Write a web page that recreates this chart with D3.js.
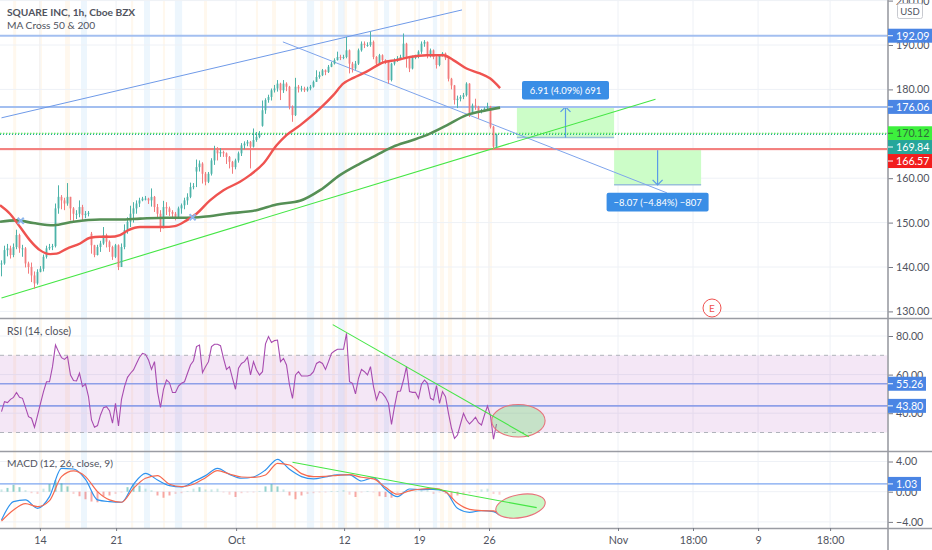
<!DOCTYPE html>
<html>
<head>
<meta charset="utf-8">
<title>SQUARE INC, 1h</title>
<script src="https://cdnjs.cloudflare.com/ajax/libs/d3/7.8.5/d3.min.js"></script>
<style>
  html, body { margin: 0; padding: 0; background: #fff; }
  svg { display: block; font-family: Lato, sans-serif; }
</style>
</head>
<body>
<div id="chart"></div>
<script>
/* global d3:false */

// Candles, one every three "bars" of the axis scale below
var closes = [
  140.8,143.8,144.2,142.7,144.5,147.2,144.2,144.2,140.8,140.0,
  138.1,136.3,138.9,139.6,142.3,144.2,144.5,144.7,153.2,155.8,
  155.0,154.3,155.8,153.2,152.0,152.0,153.5,151.7,152.0,152.2,
  144.9,142.7,144.5,145.3,147.2,145.7,144.5,142.3,144.9,140.0,
  144.5,148.3,150.2,152.0,153.2,154.3,155.0,155.4,155.4,155.0,
  155.8,153.5,152.0,149.0,153.5,153.2,152.4,152.0,151.3,153.2,
  153.9,155.0,155.8,158.0,158.2,162.5,163.3,161.0,159.2,161.0,
  164.0,166.3,165.6,165.9,165.6,164.8,163.7,162.5,164.0,165.6,
  167.4,167.8,168.2,167.1,168.6,169.3,170.1,175.3,177.6,178.3,
  179.8,180.2,181.3,179.8,181.3,180.6,176.1,174.2,180.6,180.2,
  180.2,179.8,180.2,180.6,181.7,182.8,183.2,184.3,183.9,185.1,
  185.8,186.6,187.3,187.2,187.3,188.8,185.8,184.7,185.8,188.8,
  190.3,190.0,190.0,190.7,187.3,185.8,187.7,186.6,186.2,182.1,
  185.8,186.6,187.0,187.3,190.3,187.0,184.7,187.3,187.3,188.5,
  190.3,190.7,187.7,188.8,187.3,185.5,187.7,188.1,187.0,182.4,
  180.9,177.6,177.9,178.3,178.7,181.3,174.6,176.4,176.1,174.9,
  175.3,175.7,176.2,171.6,167.1,169.84
];
var highs = [
  141.5,144.8,145.2,144.8,145.3,148.4,147.5,145.0,144.5,141.2,
  141.0,139.0,139.5,140.2,142.8,144.8,145.2,145.2,154.3,158.4,
  156.2,155.6,158.9,155.8,153.5,152.8,155.0,154.0,152.6,152.6,
  147.9,145.0,145.0,145.9,149.0,147.5,146.0,144.8,145.2,145.1,
  145.3,149.6,151.2,153.8,154.6,155.0,155.6,155.8,156.0,155.6,
  157.7,156.0,154.2,152.8,154.9,154.6,153.6,152.8,152.4,153.6,
  154.3,155.6,156.6,159.0,158.9,164.2,164.0,163.6,161.4,161.4,
  164.5,167.3,167.0,166.8,166.2,165.8,165.0,163.9,164.4,166.0,
  167.9,168.3,168.6,168.4,171.2,170.4,170.6,177.5,178.0,178.8,
  180.2,181.0,182.1,181.5,182.1,181.6,180.8,176.4,182.6,181.0,
  180.8,180.6,180.6,181.0,182.0,184.3,184.0,184.6,184.5,185.5,
  186.2,187.0,188.5,187.8,187.8,191.8,189.0,186.2,186.4,189.2,
  190.8,190.8,190.6,193.0,191.0,187.5,188.0,187.9,186.8,186.4,
  186.0,187.0,187.5,187.8,192.6,190.5,187.2,187.6,187.8,188.8,
  190.8,191.1,190.8,189.2,189.0,187.5,187.9,188.4,188.3,187.2,
  182.6,181.0,178.6,178.7,179.2,181.6,181.4,176.8,177.9,176.3,
  175.6,176.0,177.0,176.3,171.8,170.0
];
var lows = [
  137.9,140.5,142.4,141.9,142.2,144.0,143.2,142.3,139.9,138.5,
  136.6,135.1,136.0,138.8,139.0,141.9,143.8,143.8,144.4,152.0,
  153.0,152.8,153.8,150.5,150.1,150.8,151.2,150.5,151.0,151.4,
  143.0,142.2,142.6,143.4,145.0,144.4,143.4,141.6,142.0,139.3,
  140.0,144.0,147.5,149.0,150.0,152.0,153.5,154.8,155.0,154.2,
  153.6,152.4,151.0,147.9,148.7,151.7,151.5,151.0,150.5,151.0,
  152.0,153.0,154.0,155.5,157.5,158.0,161.5,158.8,158.4,158.9,
  160.6,163.0,164.0,164.8,164.8,163.2,162.2,161.0,162.0,163.5,
  165.0,166.5,167.2,162.2,166.9,168.2,169.0,171.6,174.5,177.0,
  177.5,179.3,179.5,177.6,179.2,179.6,175.5,172.7,174.0,179.3,
  179.5,179.4,179.5,179.8,180.4,181.7,182.4,183.0,183.2,183.7,
  185.0,185.6,186.5,186.6,186.8,187.0,183.6,183.8,184.4,185.5,
  188.5,189.3,189.6,189.6,186.8,185.3,185.6,186.0,185.7,181.3,
  181.8,185.4,186.2,186.8,187.0,184.9,183.9,184.5,186.8,187.0,
  188.0,189.6,187.0,187.2,186.8,184.7,185.2,187.4,186.6,181.8,
  180.0,176.6,175.8,177.3,177.8,178.4,173.8,174.4,175.4,173.4,
  174.6,175.1,175.4,171.2,166.6,166.9
];
// opens are the previous close, except where the session gapped
var gapIndex = [30, 65, 87];
var gapOpen = [147.5, 161.5, 171.8];

// Moving averages
var ma50Bars = [-0.5,2.8,6.2,9.5,12.8,16.2,18.4,21.7,26.2,29.5,32.8,36.2,39.5,42.3,46.2,53.9,57.8,61.7,65,69.5,74,79.5,82.8,87.3,91.7,95,99.5,106.2,110.6,113.9,117.3,121.7,127.3,131.7,136.2,141.7,147.3,150.6,155,159.5,162.8,166.2];
var ma50Vals = [153.9,152,149,146,143.8,142.9,143,144.1,145.3,146.6,146.8,146.8,147.2,148.3,149,149,149.2,150.5,152,155,157.3,159.2,160.7,163.3,167.4,169.7,171.9,175.7,178.7,181.3,182.6,184,186.1,186.6,187.3,187.7,187.7,186.6,184.7,183.6,182.5,180.3];
var ma200Bars = [-0.5,5,10.6,17.3,24,32.8,39.5,46.2,55,61.7,67.3,75,85,91.7,99.5,106.2,112.8,119.5,125,130.6,136.2,141.7,148.4,155,161.7,166.2];
var ma200Vals = [150.2,150.5,149.9,149.4,150.2,150.7,150.7,150.9,151.1,151.1,151.3,152,152.8,154.1,154.9,157.3,160.7,163.3,165.2,167.1,168.4,169.7,171.9,174.2,175.3,175.9];
var crossBars = [6.4, 63.7];
var crossVals = [150.4, 151.2];

// RSI, one value per candle
var rsi = [
  40.8,46,45.5,47.2,48.2,50.7,48.2,47.7,43,38.2,
  37.4,32.7,38.7,45.1,51.2,56.3,56.3,64.1,75.3,71.9,
  68.8,67.9,69.3,59.8,56.9,56.7,60.7,53.8,55.1,48.6,
  36.5,32.7,33.6,39.1,42.9,43.4,41.3,34.8,45.1,33.4,
  47.2,53.8,58.6,60.7,62.4,65.8,69,71,70.5,67.6,
  62.7,66.7,51.2,43,52.4,57.2,55.8,50.7,50.7,54.1,
  55.5,56.3,60.7,65,67.2,74.5,75.3,61,64.1,66.7,
  74.5,75.7,75.7,75,68.4,62.7,64.1,58.1,52.4,63.3,
  65.8,66.7,69,59.8,66.7,62.4,59.8,61.5,75.9,79.7,
  76.6,77.6,77.9,66.7,68.4,65,54.6,47.7,59.8,61.5,
  59.3,59.3,59.3,59.8,61.5,65.8,66.7,65.8,62.7,66.7,
  71,72.2,73.1,73.1,73.1,81.4,56.3,55.5,50,58.1,
  62.7,61.5,59.8,64.1,53.8,46.9,51.2,50.3,48.2,45.1,
  34.2,43.4,51.2,51.5,57.2,64.1,51.2,50.8,50.8,47.7,
  55,57.2,55.5,47.7,46.9,54.3,45.1,51.2,48.6,39.9,
  32.2,27,28.7,34.4,39.9,36.5,34.4,36,37.9,35.1,
  33.9,39.1,43.7,38.6,26.5,34.4
];

// MACD lines, read every fourth bar (last one at bar 166)
var macdLine = [-3.74,-1.32,-1.09,-2.2,-0.65,3.1,3.01,1.64,-1.09,-1.32,-1.4,0.98,2.44,1.55,0.8,0.63,1.33,2.13,3.1,2.3,1.78,1.95,2.88,4.29,2.97,2,1.69,1.95,2.22,2.22,1.42,1.86,0.32,-0.65,0.36,0.27,0.32,0,-2.2,-2.73,-2.51,-2.64,-3.08];
var signalLine = [-3.88,-2.42,-1.58,-1.98,-1.18,1.99,2.75,2,0.01,-1.09,-1.4,0.45,1.78,2.13,0.98,0.67,0.98,1.86,2.79,2.35,1.95,1.91,2.22,3.76,3.54,2.39,1.99,2.04,2.17,2.26,1.91,1.69,0.58,-0.34,0.1,0.36,0.45,0,-1.54,-2.33,-2.51,-2.55,-3.08];
// MACD histogram, read every second bar
var macdHist = [
  0.3,0.5,0.9,0.6,0.2,-0.2,-0.3,0.4,1.0,1.5,
  1.1,0.7,-0.3,-0.6,-1.0,-1.3,-1.4,-0.6,-0.5,-0.3,
  -0.1,0.6,1.0,0.8,0.4,0.2,-0.5,-0.8,-0.5,-0.3,
  -0.2,0.1,0.4,0.6,0.3,0.3,0.4,-0.1,-0.4,-0.7,
  -0.2,-0.1,-0.1,0.1,0.7,1.0,0.7,0.3,-0.5,-1.0,
  -0.5,-0.3,-0.2,-0.1,-0.1,0.1,0.1,0.2,-0.4,-0.7,
  -0.1,0.1,-0.1,-0.6,-0.7,-0.8,-0.3,0.1,0.1,0.1,
  0.2,0.3,-0.3,-0.1,-0.3,-0.9,-0.5,-0.4,-0.2,0.1,
  0.3,0.4,-0.3,-0.4
];

// Session highlights, in bars
var orangeStart = [3.9,12.5,21.2,43.2,53.8,67.5,84.8,90.2,97.5,106.2,110.2,114.2,118,124.2,131.5,137.5,146.2,148.8,153.5,158.2,162.2];
var orangeEnd   = [4.9,13.5,22.8,43.9,54.5,68.5,85.5,91.5,98.2,107.2,111.2,115.2,119,125.5,132.8,138.2,147.5,150.2,154.8,159.2,163.5];
var blueStart   = [26.5,47.5,57.8,101.8,112.2,127.5,143.8];
var blueEnd     = [28.5,49.5,60.2,104.2,114.2,129.2,145.2];

// Axis ticks
var timeTickBars = [12.8,38.2,78.2,114.2,139.2,162.5,205.5,230.5,252.2,276.2];
var timeTickLabels = ["14","21","Oct","12","19","26","Nov","18:00","9","18:00"];
var priceTicks = [130,140,150,160,170,180,190,200];
var rsiTicks = [40,60,80];
var macdTicks = [-4,0,4];

// Drawn levels and tools
var blueLevels = [192.09, 176.06];
var redLevel = 166.57;
var greenDotLevel = 170.12;
var tealDotLevel = 169.84;
var rsiLevels = [55.26, 43.80];
var macdLevel = 1.03;
var channelUp = [[0,173.6],[153.5,197.9]];
var channelDown = [[93.8,190.7],[221.8,156.7]];
var priceTrend = [[0,133],[218,177.8]];
var rsiTrend = [[110.4,85.9],[175.8,27.8]];
var macdTrend = [[97,3.9],[178.4,-2.12]];
var longBars = [171.8, 204.2];
var longPrices = [176.06, 169.15];
var shortBars = [204.2, 233.2];
var shortPrices = [166.57, 158.5];

(function() {

var width = 932, height = 550, plotRight = 887.5;
var priceBottom = 318, rsiBottom = 451, macdBottom = 528;

var svg = d3.select("#chart").append("svg")
  .attr("width", width)
  .attr("height", height);

var clip = svg.append("clipPath").attr("id", "plot");
clip.append("rect").attr("x", 0).attr("y", 0).attr("width", plotRight).attr("height", macdBottom);

/* Scales */
var x = d3.scaleLinear().domain([0, 295]).range([1.5, 886.5]);
var yPrice = d3.scaleLinear().domain([130, 190]).range([311.4, 45]);
var yRsi = d3.scaleLinear().domain([40, 80]).range([413.2, 336]);
var yMacd = d3.scaleLinear().domain([-4, 4]).range([521.9, 461.5]);

var plot = svg.append("g").attr("clip-path", "url(#plot)");

/* Session stripes */
function stripes(starts, ends, colour) {
  plot.append("g").selectAll("rect")
    .data(starts)
    .enter().append("rect")
    .attr("x", function(d) { return x(d); })
    .attr("width", function(d, i) { return x(ends[i]) - x(d); })
    .attr("y", 0)
    .attr("height", macdBottom)
    .attr("fill", colour);
}
stripes(orangeStart, orangeEnd, "#fff8ee");
stripes(blueStart, blueEnd, "#edf6fd");

/* Grid */
plot.append("g").selectAll("line")
  .data(timeTickBars)
  .enter().append("line")
  .attr("x1", function(d) { return x(d); })
  .attr("x2", function(d) { return x(d); })
  .attr("y1", 0)
  .attr("y2", macdBottom)
  .attr("stroke", "#eef1f6");

function hGrid(ticks, scale) {
  plot.append("g").selectAll("line")
    .data(ticks)
    .enter().append("line")
    .attr("x1", 0)
    .attr("x2", plotRight)
    .attr("y1", function(d) { return scale(d); })
    .attr("y2", function(d) { return scale(d); })
    .attr("stroke", "#eef1f6");
}
hGrid(priceTicks, yPrice);
hGrid(rsiTicks, yRsi);
hGrid(macdTicks, yMacd);

/* Helpers for lines */
function segment(points, scale, colour, w) {
  return plot.append("line")
    .attr("x1", x(points[0][0]))
    .attr("y1", scale(points[0][1]))
    .attr("x2", x(points[1][0]))
    .attr("y2", scale(points[1][1]))
    .attr("stroke", colour)
    .attr("stroke-width", w);
}
function level(value, scale, colour, w) {
  return plot.append("line")
    .attr("x1", 0)
    .attr("x2", plotRight)
    .attr("y1", scale(value))
    .attr("y2", scale(value))
    .attr("stroke", colour)
    .attr("stroke-width", w);
}

/* Long / short position tools */
function positionBox(bars, prices, arrowUp) {
  var g = plot.append("g");
  var left = x(bars[0]), right = x(bars[1]);
  var top = yPrice(prices[0]), bottom = yPrice(prices[1]);
  var mid = (left + right) / 2;
  g.append("rect")
    .attr("x", left).attr("y", top)
    .attr("width", right - left).attr("height", bottom - top)
    .attr("fill", "#ccfdc8");
  g.append("line").attr("x1", left).attr("x2", right).attr("y1", top).attr("y2", top)
    .attr("stroke", arrowUp ? "#3f7fe0" : "#8fb4ec").attr("stroke-width", 1);
  g.append("line").attr("x1", left).attr("x2", right).attr("y1", bottom).attr("y2", bottom)
    .attr("stroke", "#9ac0d8").attr("stroke-width", 1.5);
  var tipY = arrowUp ? top : bottom;
  var tailY = arrowUp ? bottom : top;
  var s = arrowUp ? 1 : -1;
  g.append("line").attr("x1", mid).attr("x2", mid).attr("y1", tailY).attr("y2", tipY)
    .attr("stroke", "#5b9be8").attr("stroke-width", 1.2);
  g.append("path")
    .attr("d", d3.line()([[mid - 5, tipY + 5 * s], [mid, tipY], [mid + 5, tipY + 5 * s]]))
    .attr("fill", "none").attr("stroke", "#5b9be8").attr("stroke-width", 1.2);
}
positionBox(longBars, longPrices, true);
positionBox(shortBars, shortPrices, false);

/* Price levels */
blueLevels.forEach(function(v) { level(v, yPrice, "#a3bff0", 2); });
level(redLevel, yPrice, "#f7b0b0", 2.2);
level(redLevel, yPrice, "#ef5350", 1);
level(greenDotLevel, yPrice, "#3ee63e", 1).attr("stroke-dasharray", "1.5 1.5");
level(tealDotLevel, yPrice, "#26a69a", 1).attr("stroke-dasharray", "1 2");

/* Trend lines under the candles */
segment(channelUp, yPrice, "#6f9ae8", 1);
segment(channelDown, yPrice, "#7ea4ec", 1);
segment(priceTrend, yPrice, "#45e645", 1.1);

/* Candles */
var candles = closes.map(function(c, i) {
  var gap = gapIndex.indexOf(i);
  var open = gap >= 0 ? gapOpen[gap] : (i > 0 ? closes[i - 1] : c);
  return { bar: i, open: open, close: c, high: highs[i], low: lows[i] };
});
function candleColour(d) { return d.close >= d.open ? "#4db3a9" : "#f27c7d"; }

var candle = plot.append("g").selectAll("g")
  .data(candles)
  .enter().append("g");
candle.append("line")
  .attr("x1", function(d) { return x(d.bar); })
  .attr("x2", function(d) { return x(d.bar); })
  .attr("y1", function(d) { return yPrice(d.high); })
  .attr("y2", function(d) { return yPrice(d.low); })
  .attr("stroke", candleColour)
  .attr("stroke-width", 1);
candle.append("rect")
  .attr("x", function(d) { return x(d.bar) - 0.9; })
  .attr("width", 1.8)
  .attr("y", function(d) { return yPrice(Math.max(d.open, d.close)); })
  .attr("height", function(d) { return Math.max(1, Math.abs(yPrice(d.open) - yPrice(d.close))); })
  .attr("fill", candleColour);

/* Moving averages */
function curve(bars, vals, scale, colour, w, curveType) {
  var line = d3.line()
    .x(function(d, i) { return x(bars[i]); })
    .y(function(d) { return scale(d); })
    .curve(curveType || d3.curveLinear);
  return plot.append("path")
    .attr("d", line(vals))
    .attr("fill", "none")
    .attr("stroke", colour)
    .attr("stroke-width", w)
    .attr("stroke-linejoin", "round");
}
curve(ma200Bars, ma200Vals, yPrice, "#558f55", 2.6, d3.curveMonotoneX);
curve(ma50Bars, ma50Vals, yPrice, "#ef5350", 2.4, d3.curveMonotoneX);

plot.append("g").selectAll("path")
  .data(crossBars)
  .enter().append("path")
  .attr("d", d3.symbol().type(d3.symbolX).size(26))
  .attr("transform", function(d, i) {
    return "translate(" + x(d) + "," + yPrice(crossVals[i]) + ")";
  })
  .attr("fill", "none")
  .attr("stroke", "#8db6ee")
  .attr("stroke-width", 2);

/* RSI pane */
plot.append("rect")
  .attr("x", 0).attr("width", plotRight)
  .attr("y", yRsi(70)).attr("height", yRsi(30) - yRsi(70))
  .attr("fill", "#9c27b0").attr("fill-opacity", 0.11);
level(70, yRsi, "#b0b3bb", 1).attr("stroke-dasharray", "4 4");
level(30, yRsi, "#b0b3bb", 1).attr("stroke-dasharray", "4 4");
rsiLevels.forEach(function(v) { level(v, yRsi, "#8e9fe8", 1.6); });

plot.append("path")
  .attr("d", d3.line()
    .x(function(d, i) { return x(i); })
    .y(function(d) { return yRsi(d); })(rsi))
  .attr("fill", "none")
  .attr("stroke", "#a84cb0")
  .attr("stroke-width", 1.1);

function ellipse(bar, value, scale, rx, ry, angle, fill) {
  plot.append("ellipse")
    .attr("transform", "translate(" + x(bar) + "," + scale(value) + ") rotate(" + angle + ")")
    .attr("rx", rx)
    .attr("ry", ry)
    .attr("fill", fill)
    .attr("stroke", "#e8737c")
    .attr("stroke-width", 1.1);
}
ellipse(172.3, 36.1, yRsi, 26.7, 16.3, 0, "rgba(104,214,104,0.32)");
segment(rsiTrend, yRsi, "#45e645", 1.1);

/* MACD pane */
level(macdLevel, yMacd, "#7da6f0", 1.2);
plot.append("g").selectAll("rect")
  .data(macdHist)
  .enter().append("rect")
  .attr("x", function(d, i) { return x(i * 2) - 1; })
  .attr("width", 2)
  .attr("y", function(d) { return yMacd(Math.max(d, 0)); })
  .attr("height", function(d) { return Math.abs(yMacd(d) - yMacd(0)); })
  .attr("fill", function(d) { return d >= 0 ? "#26a69a" : "#ef5350"; })
  .attr("fill-opacity", function(d) { return Math.abs(d) > 0.4 ? 0.5 : 0.25; });

var macdBars = macdLine.map(function(d, i) { return i < 42 ? i * 4 : 166; });
curve(macdBars, macdLine, yMacd, "#2f93ee", 1.2, d3.curveMonotoneX);
curve(macdBars, signalLine, yMacd, "#f6694f", 1.2, d3.curveMonotoneX);

ellipse(173, -1.9, yMacd, 25, 11.5, -10, "#c9f8c4");
segment(macdTrend, yMacd, "#45e645", 1.2);

/* Pane borders */
[priceBottom, rsiBottom, macdBottom].forEach(function(y) {
  svg.append("line")
    .attr("x1", 0).attr("x2", width)
    .attr("y1", y + 0.5).attr("y2", y + 0.5)
    .attr("stroke", "#9a9ca3")
    .attr("stroke-width", 1.4);
});

/* Axes */
function styleAxis(g) {
  g.select(".domain").remove();
  g.selectAll("line").attr("stroke", "#787b86");
  g.selectAll("text")
    .attr("fill", "#50535e")
    .style("font-size", "10.7px")
    .style("font-family", "Lato, sans-serif");
}
function fmt(d) { return d3.format(".2f")(d).replace("-", "\u2212"); }

svg.append("g").attr("transform", "translate(888,0)")
  .call(d3.axisRight(yPrice).tickValues(priceTicks).tickSize(5).tickPadding(3).tickFormat(fmt))
  .call(styleAxis);
svg.append("g").attr("transform", "translate(888,0)")
  .call(d3.axisRight(yRsi).tickValues(rsiTicks).tickSize(5).tickPadding(3).tickFormat(fmt))
  .call(styleAxis);
svg.append("g").attr("transform", "translate(888,0)")
  .call(d3.axisRight(yMacd).tickValues(macdTicks).tickSize(5).tickPadding(3).tickFormat(fmt))
  .call(styleAxis);
svg.append("g").attr("transform", "translate(0," + macdBottom + ")")
  .call(d3.axisBottom(x).tickValues(timeTickBars).tickSize(3).tickPadding(5)
    .tickFormat(function(d, i) { return timeTickLabels[i]; }))
  .call(styleAxis);

svg.append("line")
  .attr("x1", 888).attr("x2", 888)
  .attr("y1", 0).attr("y2", height)
  .attr("stroke", "#9a9ca3")
  .attr("stroke-width", 1.6);

/* Price tags on the scale */
function tag(y, value, fill, textColour, w) {
  svg.append("rect")
    .attr("x", 888).attr("y", y - 7).attr("width", w).attr("height", 14)
    .attr("fill", fill);
  svg.append("line")
    .attr("x1", 888).attr("x2", 893).attr("y1", y).attr("y2", y)
    .attr("stroke", textColour);
  svg.append("text")
    .attr("x", 896).attr("y", y + 4)
    .attr("fill", textColour)
    .style("font-size", "10.7px")
    .text(d3.format(".2f")(value));
}
tag(yPrice(blueLevels[0]), blueLevels[0], "#4a85e4", "#fff", 44);
tag(yPrice(blueLevels[1]), blueLevels[1], "#4a85e4", "#fff", 44);
tag(yPrice(greenDotLevel), greenDotLevel, "#3df03d", "#2f6b3a", 44);
tag(yPrice(tealDotLevel) + 12.5, tealDotLevel, "#26a69a", "#fff", 44);
tag(yPrice(redLevel) + 12, redLevel, "#f21d1d", "#fff", 44);
tag(yRsi(rsiLevels[0]), rsiLevels[0], "#4a85e4", "#fff", 38);
tag(yRsi(rsiLevels[1]), rsiLevels[1], "#4a85e4", "#fff", 38);
tag(yMacd(macdLevel), macdLevel, "#4a85e4", "#fff", 33);

/* Currency box */
svg.append("rect")
  .attr("x", 897.5).attr("y", 3.5).attr("width", 25).attr("height", 15).attr("rx", 2)
  .attr("fill", "#fff").attr("stroke", "#c8cad0");
svg.append("text")
  .attr("x", 910).attr("y", 15)
  .attr("text-anchor", "middle")
  .attr("fill", "#50535e")
  .style("font-size", "9.5px")
  .text("USD");

/* Position labels */
function posLabel(cx, y, w, text) {
  svg.append("rect")
    .attr("x", cx - w / 2).attr("y", y).attr("width", w).attr("height", 18.6).attr("rx", 2)
    .attr("fill", "#3a8ee6");
  svg.append("text")
    .attr("x", cx).attr("y", y + 13)
    .attr("text-anchor", "middle")
    .attr("fill", "#fff")
    .style("font-size", "9.5px")
    .text(text);
}
posLabel(x((longBars[0] + longBars[1]) / 2), yPrice(longPrices[0]) - 26, 87, "6.91 (4.09%) 691");
posLabel(x((shortBars[0] + shortBars[1]) / 2), yPrice(shortPrices[1]) + 8, 102, "\u22128.07 (\u22124.84%) \u2212807");

/* Earnings mark */
svg.append("circle")
  .attr("cx", 712).attr("cy", 308).attr("r", 9)
  .attr("fill", "#fff").attr("stroke", "#ef5350");
svg.append("text")
  .attr("x", 712).attr("y", 312)
  .attr("text-anchor", "middle")
  .attr("fill", "#ef5350")
  .style("font-size", "10px")
  .text("E");

/* Titles */
function label(xPos, yPos, size, weight, text) {
  svg.append("text")
    .attr("x", xPos).attr("y", yPos)
    .attr("fill", "#50535e")
    .style("font-size", size + "px")
    .style("font-weight", weight)
    .text(text);
}
label(7, 16, 10.2, 700, "SQUARE INC, 1h, Cboe BZX");
label(7, 29, 10.2, 400, "MA Cross 50 & 200");
label(7, 335, 10.5, 400, "RSI (14, close)");
label(7, 467, 10.2, 400, "MACD (12, 26, close, 9)");

})();
</script>
</body>
</html>
